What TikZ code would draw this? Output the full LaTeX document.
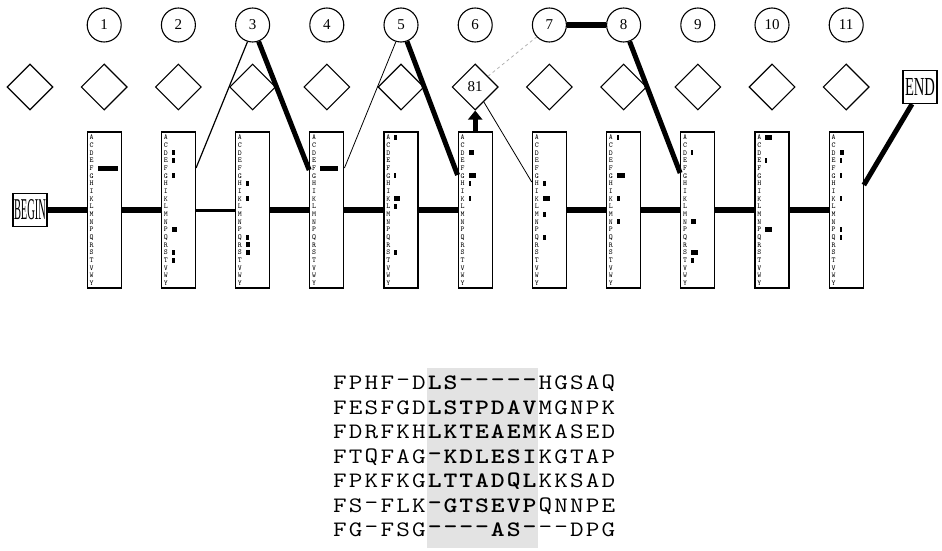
\documentclass[tikz,border=0pt]{standalone}
\usepackage{fontspec}
\setmainfont{Liberation Serif}
\usetikzlibrary{shapes.geometric,arrows.meta,calc}
\begin{document}
\begin{tikzpicture}[x=1pt,y=-1pt,
  delstate/.style={circle,draw,line width=1.1pt,minimum size=34pt,inner sep=0pt,font=\fontsize{15}{15}\selectfont},
  insstate/.style={diamond,aspect=1,draw,line width=1.1pt,minimum size=46pt,inner sep=0pt,font=\fontsize{15}{15}\selectfont},
  matchbox/.style={rectangle,draw,line width=1.3pt,minimum width=34pt,minimum height=156pt,inner sep=0pt},
  termbox/.style={rectangle,draw,line width=1.2pt,minimum width=34pt,minimum height=33pt,inner sep=0pt},
  boxletter/.style={inner sep=0pt,font=\ttfamily\fontsize{7.5}{7.5}\selectfont},
  alch/.style={inner sep=0pt,font=\ttfamily\fontsize{22}{22}\selectfont},
  thickc/.style={line width=6pt},
  medc/.style={line width=3pt},
  diagthick/.style={line width=5pt},
  thinc/.style={line width=1.2pt},
  hairc/.style={line width=0.8pt},
  dashc/.style={line width=0.8pt,gray!60,dash pattern=on 3pt off 3pt}]
\useasboundingbox (0,0) rectangle (942,551);
% insert states
\foreach \k in {0,...,11}{
  \pgfmathsetmacro\xx{30+74.2*\k}
  \ifnum\k=6
    \node[insstate] (i\k) at (\xx,87) {81};
  \else
    \node[insstate] (i\k) at (\xx,87) {};
  \fi
}
% delete states and match boxes
\foreach \k in {1,...,11}{
  \pgfmathsetmacro\xx{30+74.2*\k}
  \node[delstate] (d\k) at (\xx,25) {\k};
  \node[matchbox] (m\k) at (\xx,210) {};
  \foreach \L [count=\j from 0] in {A,C,D,E,F,G,H,I,K,L,M,N,P,Q,R,S,T,V,W,Y}{
    \node[boxletter] (l\k-\j) at ($(m\k.north west)+(5,6+7.68*\j)$) {\L};
  }
}
% emission bars
\foreach \b/\j/\l in {1/4/20,
  2/2/3,2/3/3,2/5/3,2/12/5,2/15/3,2/16/3,
  3/6/3,3/8/3,3/13/3,3/14/4,3/15/4,
  4/4/18,
  5/0/3,5/5/2,5/8/6,5/9/3,5/15/3,
  6/2/5,6/5/7,6/6/2,6/8/2,
  7/6/3,7/8/7,7/10/3,7/13/3,
  8/0/2,8/5/8,8/8/3,8/11/3,
  9/2/2,9/11/5,9/15/7,9/16/3,
  10/0/7,10/3/2,10/12/7,
  11/2/4,11/3/2,11/5/2,11/8/2,11/12/2,11/13/2}{
  \fill ($(m\b.north west)+(11,3.5+7.68*\j)$) rectangle ++(\l,5);
}
\node[termbox] (begin) at (30,210) {\resizebox{32pt}{20pt}{BEGIN}};
\node[termbox] (endn) at (920,87) {\resizebox{30pt}{17pt}{END}};
% main path
\draw[thickc] (begin.east) -- (m1.west);
\draw[thickc] (m1.east) -- (m2.west);
\draw[medc] (m2.east) -- (m3.west);
\draw[thickc] (m3.east) -- (m4.west);
\draw[thickc] (m4.east) -- (m5.west);
\draw[thickc] (m5.east) -- (m6.west);
\draw[thickc] (m7.east) -- (m8.west);
\draw[thickc] (m8.east) -- (m9.west);
\draw[thickc] (m9.east) -- (m10.west);
\draw[thickc] (m10.east) -- (m11.west);
% deletions
\draw[thinc] ([yshift=42pt]m2.east) -- (d3.253);
\draw[diagthick] (d3.290) -- ([yshift=40pt]m4.west);
\draw[hairc] ([yshift=42pt]m4.east) -- (d5.253);
\draw[diagthick] (d5.290) -- ([yshift=35pt]m6.west);
\draw[thickc] (d7.east) -- (d8.west);
\draw[diagthick] (d8.290) -- ([yshift=37pt]m9.west);
\draw[diagthick] ([yshift=25pt]m11.east) -- ([xshift=-8pt]endn.south);
% insertion
\draw[line width=5pt,-{Triangle[length=9pt,width=14pt]}] (m6.north) -- (i6.south);
\draw[hairc] (i6.300) -- ([yshift=28pt]m7.west);
\draw[dashc] (i6.40) -- (d7.223);
% alignment
\fill[gray!22] (427,368) rectangle (538,548);
\newcommand\alrow[3]{%
  \foreach \c [count=\i] in {#3}{%
    \node[alch] (a#1-\i) at (332+\i*15.8-7.9,#2) {\scalebox{1.2}[1]{\ifnum\i>6 \ifnum\i<14 \bfseries\fi\fi\c}};}}
\alrow{1}{383}{F,P,H,F,-,D,L,S,-,-,-,-,-,H,G,S,A,Q}
\alrow{2}{408}{F,E,S,F,G,D,L,S,T,P,D,A,V,M,G,N,P,K}
\alrow{3}{432}{F,D,R,F,K,H,L,K,T,E,A,E,M,K,A,S,E,D}
\alrow{4}{457}{F,T,Q,F,A,G,-,K,D,L,E,S,I,K,G,T,A,P}
\alrow{5}{481}{F,P,K,F,K,G,L,T,T,A,D,Q,L,K,K,S,A,D}
\alrow{6}{506}{F,S,-,F,L,K,-,G,T,S,E,V,P,Q,N,N,P,E}
\alrow{7}{530}{F,G,-,F,S,G,-,-,-,-,A,S,-,-,-,D,P,G}
\end{tikzpicture}
\end{document}
